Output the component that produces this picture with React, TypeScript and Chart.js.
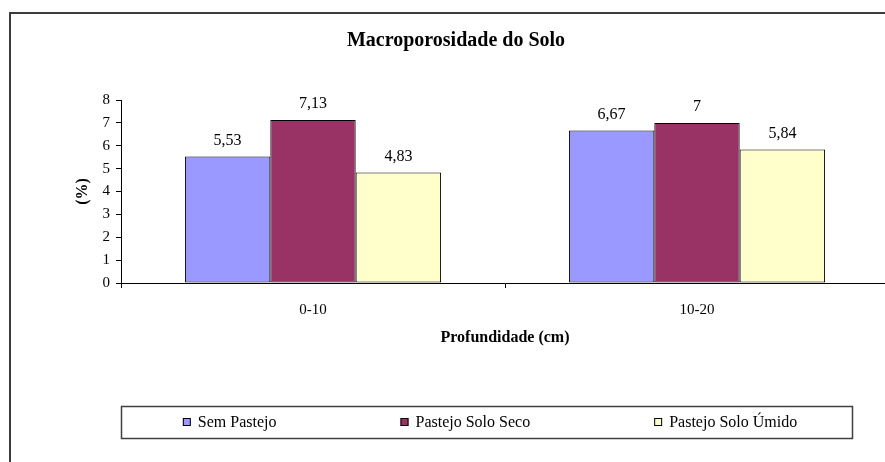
import React, { useEffect, useRef } from 'react';
import { Chart, registerables } from 'chart.js';

Chart.register(...registerables);

const categories = ['0-10', '10-20'];
const seriesNames = ['Sem Pastejo', 'Pastejo Solo Seco', 'Pastejo Solo Úmido'];
const semPastejo = [5.53, 6.67];
const pastejoSoloSeco = [7.13, 7];
const pastejoSoloUmido = [4.83, 5.84];
const seriesColors = ['#9999FF', '#993366', '#FFFFCC'];
const yMin = 0;
const yMax = 8;
const yStep = 1;
const chartTitle = 'Macroporosidade do Solo';
const xTitle = 'Profundidade (cm)';
const yTitle = '(%)';

const FONT = "'Liberation Serif', 'Times New Roman', serif";
const CANVAS_W = 912;
const CANVAS_H = 462;

const fmt = (v: number) => String(v).replace('.', ',');

const framePlugin = {
  id: 'frame',
  beforeDraw(chart: any) {
    const ctx = chart.ctx;
    ctx.save();
    ctx.fillStyle = '#ffffff';
    ctx.fillRect(0, 0, chart.width, chart.height);
    ctx.strokeStyle = '#3c3c3c';
    ctx.lineWidth = 2;
    ctx.strokeRect(10, 13, 2000, 2000);
    ctx.restore();
  },
};

const dataLabelPlugin = {
  id: 'dataLabels',
  afterDatasetsDraw(chart: any) {
    const ctx = chart.ctx;
    ctx.save();
    ctx.font = `16px ${FONT}`;
    ctx.fillStyle = '#000';
    ctx.textAlign = 'center';
    ctx.textBaseline = 'middle';
    chart.data.datasets.forEach((ds: any, di: number) => {
      const meta = chart.getDatasetMeta(di);
      meta.data.forEach((el: any, i: number) => {
        ctx.fillText(fmt(ds.data[i]), el.x, el.y - 16);
      });
    });
    ctx.restore();
  },
};

const legendPlugin = {
  id: 'boxLegend',
  afterDraw(chart: any) {
    const ctx = chart.ctx;
    const left = chart.chartArea.left;
    const right = 852;
    const top = 406;
    const bottom = 438;
    const cy = (top + bottom) / 2;
    ctx.save();
    ctx.strokeStyle = '#404040';
    ctx.lineWidth = 1.5;
    ctx.strokeRect(left + 0.5, top + 0.5, right - left, bottom - top);
    ctx.font = `16px ${FONT}`;
    const names = chart.data.datasets.map((d: any) => d.label);
    const widths = names.map((n: string) => 15 + ctx.measureText(n).width);
    const gap = 124;
    const total = widths.reduce((a: number, b: number) => a + b, 0) + gap * (names.length - 1);
    let x = 490 - total / 2;
    names.forEach((n: string, i: number) => {
      ctx.fillStyle = chart.data.datasets[i].backgroundColor;
      ctx.fillRect(x, cy - 4, 8, 8);
      ctx.strokeStyle = '#000';
      ctx.lineWidth = 1;
      ctx.strokeRect(x + 0.5, cy - 3.5, 7, 7);
      ctx.fillStyle = '#000';
      ctx.textAlign = 'left';
      ctx.textBaseline = 'middle';
      ctx.fillText(n, x + 15, cy + 1);
      x += widths[i] + gap;
    });
    ctx.restore();
  },
};

export default function App() {
  const ref = useRef<HTMLCanvasElement | null>(null);

  useEffect(() => {
    if (!ref.current) return;
    const seriesValues = [semPastejo, pastejoSoloSeco, pastejoSoloUmido];
    const chart = new Chart(ref.current, {
      type: 'bar',
      data: {
        labels: categories,
        datasets: seriesNames.map((name, i) => ({
          label: name,
          data: seriesValues[i],
          backgroundColor: seriesColors[i],
          borderColor: '#000',
          borderWidth: 1,
          borderSkipped: false,
          categoryPercentage: 0.667,
          barPercentage: 1,
        })),
      },
      options: {
        responsive: false,
        animation: false,
        devicePixelRatio: 1,
        layout: { padding: { left: 23, right: 23, top: 0, bottom: 99 } },
        plugins: {
          legend: { display: false },
          tooltip: { enabled: false },
          title: {
            display: true,
            text: chartTitle,
            color: '#000',
            font: { family: FONT, size: 20, weight: 'bold' },
            padding: { top: 29, bottom: 47 },
          },
        },
        scales: {
          x: {
            grid: {
              drawOnChartArea: false,
              drawTicks: true,
              tickLength: 5,
              color: '#000',
              tickColor: '#000',
            },
            border: { color: '#000', width: 1 },
            ticks: {
              color: '#000',
              font: { family: FONT, size: 15 },
              padding: 13,
            },
            title: {
              display: true,
              text: xTitle,
              color: '#000',
              font: { family: FONT, size: 16, weight: 'bold' },
              padding: { top: 0, bottom: 16 },
            },
            afterFit(scale: any) {
              scale.height = 80;
            },
          },
          y: {
            min: yMin,
            max: yMax,
            ticks: {
              stepSize: yStep,
              color: '#000',
              font: { family: FONT, size: 15 },
              padding: 6,
            },
            grid: {
              drawOnChartArea: false,
              drawTicks: true,
              tickLength: 5,
              color: '#000',
              tickColor: '#000',
            },
            border: { color: '#000', width: 1 },
            title: {
              display: true,
              text: yTitle,
              color: '#000',
              font: { family: FONT, size: 16, weight: 'bold' },
              padding: { top: 50, bottom: 0 },
            },
            afterFit(scale: any) {
              scale.width = 98;
            },
          },
        },
      },
      plugins: [framePlugin, dataLabelPlugin, legendPlugin],
    });
    return () => chart.destroy();
  }, []);

  return (
    <div
      style={{
        position: 'absolute',
        left: 0,
        top: 0,
        width: 885,
        height: 462,
        overflow: 'hidden',
        background: '#fff',
      }}
    >
      <canvas
        ref={ref}
        width={CANVAS_W}
        height={CANVAS_H}
        style={{ width: CANVAS_W, height: CANVAS_H, display: 'block' }}
      />
    </div>
  );
}
